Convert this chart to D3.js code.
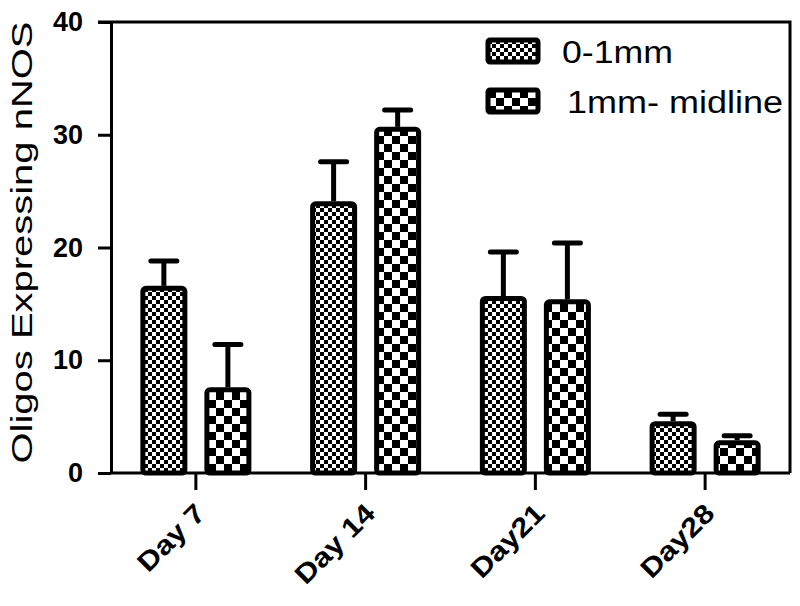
<!DOCTYPE html>
<html lang="en">
<head>
    <meta charset="UTF-8"/>
    <title>Oligos expressing nNOS</title>
    <script src="https://d3js.org/d3.v7.min.js" charset="utf-8"></script>
    <style type="text/css">
        body { margin: 0; background: #fff; }
        text { font-family: "Liberation Sans", Arial, sans-serif; fill: #000; }
        .axis path, .axis line { stroke: #000; stroke-width: 3px; fill: none; }
        .axis text { font-weight: bold; font-size: 27px; }
    </style>
</head>
<body>
<svg width="800" height="606"></svg>

<script type="text/javascript">
    var categories = ["Day 7", "Day 14", "Day21", "Day28"];
    var seriesNames = ["0-1mm", "1mm- midline"];
    var meansNear = [16.6, 24.1, 15.7, 4.6];
    var errNear = [2.2, 3.5, 3.9, 0.6];
    var meansMid = [7.6, 30.7, 15.4, 2.9];
    var errMid = [3.8, 1.5, 5.0, 0.4];
    var yTicks = [0, 10, 20, 30, 40];

    var svg = d3.select("svg");
    var plotL = 111, plotR = 790, plotT = 22, plotB = 473;

    var x0 = d3.scaleBand().domain(categories).range([plotL, plotR])
        .paddingInner(0.346).paddingOuter(0.173);
    var x1 = d3.scaleBand().domain(seriesNames).range([0, x0.bandwidth()])
        .paddingInner(0.266);
    var y = d3.scaleLinear().domain([0, 40]).range([plotB, plotT]);

    // checkerboard fills
    var defs = svg.append("defs");
    function checker(id, cell) {
        var p = defs.append("pattern").attr("id", id)
            .attr("patternUnits", "userSpaceOnUse")
            .attr("width", cell * 2).attr("height", cell * 2);
        p.append("rect").attr("width", cell * 2).attr("height", cell * 2).attr("fill", "#fff");
        p.append("rect").attr("width", cell).attr("height", cell).attr("fill", "#000");
        p.append("rect").attr("x", cell).attr("y", cell).attr("width", cell).attr("height", cell).attr("fill", "#000");
    }
    checker("fine", 4);
    checker("coarse", 8);
    var fills = {"0-1mm": "url(#fine)", "1mm- midline": "url(#coarse)"};

    var data = [];
    categories.forEach(function(c, i) {
        data.push({cat: c, s: seriesNames[0], v: meansNear[i], e: errNear[i]});
        data.push({cat: c, s: seriesNames[1], v: meansMid[i], e: errMid[i]});
    });

    var sw = 5;
    var bars = svg.append("g").selectAll("g").data(data).enter().append("g");

    // error bars (upper only)
    bars.append("line")
        .attr("x1", function(d) { return x0(d.cat) + x1(d.s) + x1.bandwidth() / 2; })
        .attr("x2", function(d) { return x0(d.cat) + x1(d.s) + x1.bandwidth() / 2; })
        .attr("y1", function(d) { return y(d.v); })
        .attr("y2", function(d) { return y(d.v + d.e); })
        .attr("stroke", "#000").attr("stroke-width", 5);
    bars.append("line")
        .attr("x1", function(d) { return x0(d.cat) + x1(d.s) + x1.bandwidth() / 2 - 13; })
        .attr("x2", function(d) { return x0(d.cat) + x1(d.s) + x1.bandwidth() / 2 + 13; })
        .attr("y1", function(d) { return y(d.v + d.e); })
        .attr("y2", function(d) { return y(d.v + d.e); })
        .attr("stroke", "#000").attr("stroke-width", 5).attr("stroke-linecap", "round");

    bars.append("rect")
        .attr("x", function(d) { return x0(d.cat) + x1(d.s) + sw / 2; })
        .attr("y", function(d) { return y(d.v) + sw / 2; })
        .attr("width", x1.bandwidth() - sw)
        .attr("height", function(d) { return y(0) - y(d.v) - sw / 2; })
        .attr("rx", 3)
        .attr("fill", function(d) { return fills[d.s]; })
        .attr("stroke", "#000").attr("stroke-width", sw)
        .attr("stroke-linejoin", "round");

    // frame top and right
    svg.append("path")
        .attr("d", "M" + (plotL - 13) + "," + plotT + "H" + plotR + "V" + plotB)
        .attr("fill", "none").attr("stroke", "#000").attr("stroke-width", 3);

    var yAxis = svg.append("g").attr("class", "axis")
        .attr("transform", "translate(" + plotL + ",0)")
        .call(d3.axisLeft(y).tickValues(yTicks).tickSize(13).tickSizeOuter(0).tickPadding(15));

    var xAxis = svg.append("g").attr("class", "axis")
        .attr("transform", "translate(0," + plotB + ")")
        .call(d3.axisBottom(x0).tickSize(17).tickSizeOuter(0));
    xAxis.select(".domain").attr("d", "M" + plotL + ",0H" + plotR);
    xAxis.selectAll("text")
        .attr("text-anchor", "end")
        .attr("dy", null)
        .attr("y", 0)
        .style("font-size", "27px")
        .attr("transform", "translate(11,42) rotate(-45) scale(1.15,1)");

    svg.append("text")
        .attr("transform", "translate(32," + (plotT + plotB - 10) / 2 + ") rotate(-90)")
        .attr("text-anchor", "middle")
        .attr("font-size", 29)
        .attr("textLength", 442)
        .attr("lengthAdjust", "spacingAndGlyphs")
        .text("Oligos Expressing nNOS");

    // legend
    var legend = svg.append("g").selectAll("g").data(seriesNames).enter().append("g")
        .attr("transform", function(d, i) { return "translate(0," + i * 50 + ")"; });
    legend.append("rect")
        .attr("x", 488).attr("y", 40).attr("width", 50).attr("height", 22)
        .attr("rx", 2)
        .attr("fill", function(d) { return fills[d]; })
        .attr("stroke", "#000").attr("stroke-width", sw);
    legend.append("text")
        .attr("x", function(d, i) { return i ? 567 : 562; })
        .attr("y", 63)
        .attr("font-size", 31)
        .attr("textLength", function(d, i) { return i ? 216 : 111; })
        .attr("lengthAdjust", "spacingAndGlyphs")
        .text(function(d) { return d; });
</script>
</body>
</html>
